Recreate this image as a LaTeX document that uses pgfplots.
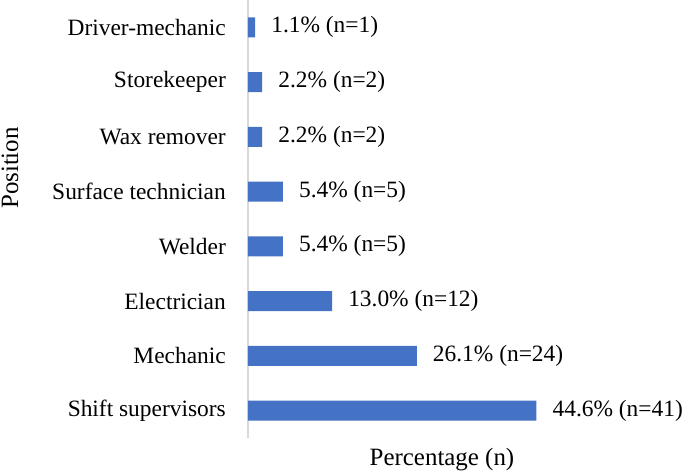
\documentclass[border=0pt]{standalone}
\usepackage{fontspec}
\setmainfont{Liberation Serif}
\usepackage{pgfplots}
\pgfplotsset{compat=1.18}
\definecolor{barblue}{HTML}{4472C4}
\definecolor{axgray}{HTML}{D9D9D9}
\begin{document}
\begin{tikzpicture}[x=1bp,y=1bp]
\useasboundingbox (-248,-35) rectangle (437,438);
\begin{axis}[
  at={(0,0)}, anchor=south west,
  scale only axis, width=388bp, height=438bp,
  xbar, bar width=20bp,
  xmin=0, xmax=60, ymin=-0.5, ymax=7.5,
  axis x line*=bottom, axis y line*=left,
  x axis line style={draw=none},
  y axis line style={-, draw=axgray, line width=1.5bp},
  xtick=\empty,
  ytick={0,...,7},
  yticklabels={Shift supervisors, Mechanic, Electrician, Welder, Surface technician, Wax remover, Storekeeper, Driver-mechanic},
  major tick length=0pt,
  yticklabel style={anchor=east, inner sep=0pt, xshift=-22bp, font=\fontsize{23.5}{28}\selectfont},
  xlabel={Percentage (n)},
  xlabel style={at={(axis description cs:0.5,-0.0639)}, anchor=base, inner sep=0pt, font=\fontsize{25}{30}\selectfont},
  ylabel={Position},
  ylabel style={at={(axis description cs:-0.6134,0.6164)}, anchor=center, inner sep=0pt, font=\fontsize{25}{30}\selectfont},
  point meta=explicit symbolic,
  nodes near coords,
  nodes near coords style={anchor=west, inner sep=0pt, xshift=16bp, font=\fontsize{23.5}{28}\selectfont, text=black},
  clip=false,
]
\addplot[fill=barblue, draw=none] coordinates {
  (44.6,0) [44.6\% (n=41)]
  (26.1,1) [26.1\% (n=24)]
  (13.0,2) [13.0\% (n=12)]
  (5.4,3) [5.4\% (n=5)]
  (5.4,4) [5.4\% (n=5)]
  (2.2,5) [2.2\% (n=2)]
  (2.2,6) [2.2\% (n=2)]
  (1.1,7) [1.1\% (n=1)]
};
\end{axis}
\end{tikzpicture}
\end{document}
